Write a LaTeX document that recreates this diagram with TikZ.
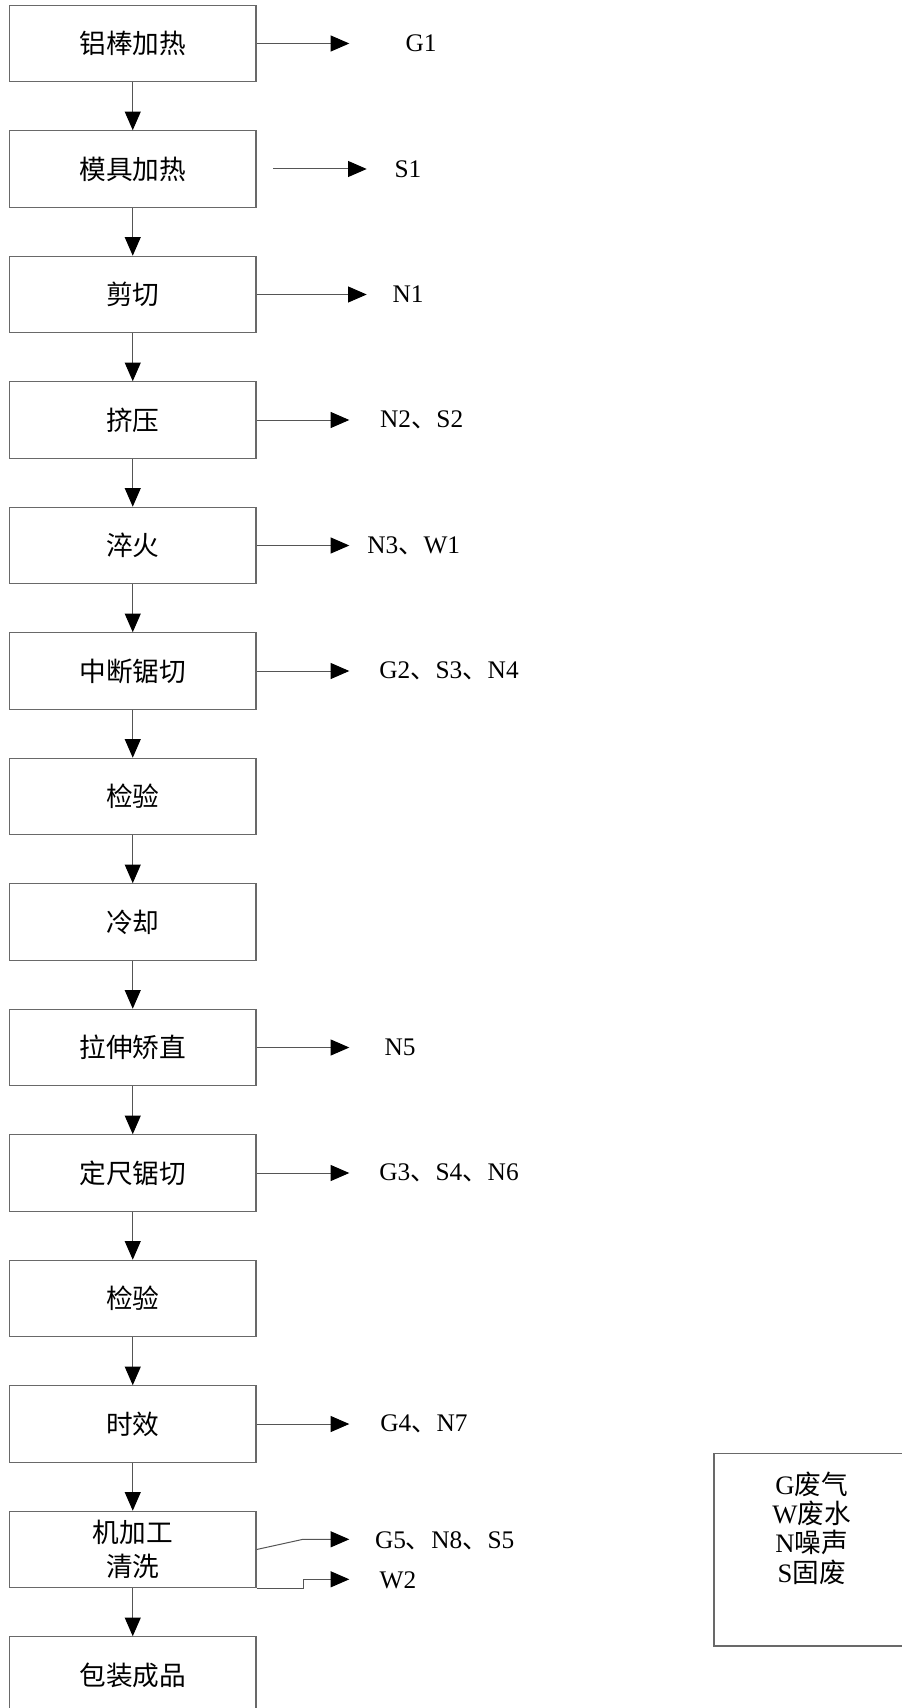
\documentclass[tikz,border=0pt]{standalone}
\usepackage{fontspec}
\setmainfont{Liberation Serif}
\newfontfamily\cjk{Noto Sans CJK SC}
\usepackage{tikz}
\usetikzlibrary{arrows.meta}
\tikzset{>={Triangle[length=14pt,width=12pt]}}
\definecolor{boxgray}{RGB}{105,105,105}
\definecolor{linegray}{RGB}{85,85,85}
\newcommand{\sepmark}{{\cjk 、}}

\begin{document}
\begin{tikzpicture}[x=0.75pt,y=-0.75pt,
    procbox/.style={draw=boxgray, line width=0.9pt, minimum width=184.9pt, minimum height=57.3pt,
      align=center, font=\cjk\fontsize{20}{26}\selectfont},
    flow/.style={draw=linegray, line width=0.75pt, -{Triangle[length=14pt,width=12pt,color=black]}},
    outlbl/.style={font=\fontsize{19}{22}\selectfont, inner sep=0pt}]
            \useasboundingbox (0,0) rectangle (902,1708);

            % Process boxes
            \node[procbox] (b1) at (132.75,43.5) {铝棒加热};
            \node[procbox] (b2) at (132.75,169) {模具加热};
            \node[procbox] (b3) at (132.75,294.5) {剪切};
            \node[procbox] (b4) at (132.75,420) {挤压};
            \node[procbox] (b5) at (132.75,545.5) {淬火};
            \node[procbox] (b6) at (132.75,671) {中断锯切};
            \node[procbox] (b7) at (132.75,796.5) {检验};
            \node[procbox] (b8) at (132.75,922) {冷却};
            \node[procbox] (b9) at (132.75,1047.5) {拉伸矫直};
            \node[procbox] (b10) at (132.75,1173) {定尺锯切};
            \node[procbox] (b11) at (132.75,1298.5) {检验};
            \node[procbox] (b12) at (132.75,1424) {时效};
            \node[procbox] (b13) at (132.75,1549.5) {机加工\\清洗};
            \node[procbox] (b14) at (132.75,1675) {包装成品}; % bottom edge runs off the page

            % Main flow
            \draw[flow] (b1.south) -- (b2.north);
            \draw[flow] (b2.south) -- (b3.north);
            \draw[flow] (b3.south) -- (b4.north);
            \draw[flow] (b4.south) -- (b5.north);
            \draw[flow] (b5.south) -- (b6.north);
            \draw[flow] (b6.south) -- (b7.north);
            \draw[flow] (b7.south) -- (b8.north);
            \draw[flow] (b8.south) -- (b9.north);
            \draw[flow] (b9.south) -- (b10.north);
            \draw[flow] (b10.south) -- (b11.north);
            \draw[flow] (b11.south) -- (b12.north);
            \draw[flow] (b12.south) -- (b13.north);
            \draw[flow] (b13.south) -- (b14.north);

            % Arrow ends for the emissions
            \coordinate (g1tip) at (349.3,43.5);
            \coordinate (s1tail) at (273.3,169);
            \coordinate (s1tip) at (366.7,169);
            \coordinate (n1tip) at (366.7,294.5);
            \coordinate (n2tip) at (349.3,420);
            \coordinate (n3tip) at (349.3,545.5);
            \coordinate (g2tip) at (349.3,671);
            \coordinate (n5tip) at (349.3,1047.5);
            \coordinate (g3tip) at (349.3,1173);
            \coordinate (g4tip) at (349.3,1424);
            \coordinate (g5bend) at (303,1539.3);
            \coordinate (g5tip) at (349.3,1539.3);
            \coordinate (w2bend) at (303,1579.3);
            \coordinate (w2tip) at (349.3,1579.3);

            \draw[flow] (b1.east) -- (g1tip);
            \draw[flow] (s1tail) -- (s1tip); % starts off the box
            \draw[flow] (b3.east) -- (n1tip);
            \draw[flow] (b4.east) -- (n2tip);
            \draw[flow] (b5.east) -- (n3tip);
            \draw[flow] (b6.east) -- (g2tip);
            \draw[flow] (b9.east) -- (n5tip);
            \draw[flow] (b10.east) -- (g3tip);
            \draw[flow] (b12.east) -- (g4tip);
            \draw[flow] (b13.east) -- (g5bend) -- (g5tip);
            \draw[flow] (b13.south east) -| (w2bend) -- (w2tip);

            % Emission labels
            \node[outlbl] (g1) at (421,43.5) {G1};
            \node[outlbl] (s1) at (408,169) {S1};
            \node[outlbl] (n1) at (408,294.5) {N1};
            \node[outlbl] (n2s2) at (421.7,420) {N2\sepmark S2};
            \node[outlbl] (n3w1) at (413.7,545.5) {N3\sepmark W1};
            \node[outlbl] (g2s3n4) at (449,671) {G2\sepmark S3\sepmark N4};
            \node[outlbl] (n5) at (400,1047.5) {N5};
            \node[outlbl] (g3s4n6) at (449,1173) {G3\sepmark S4\sepmark N6};
            \node[outlbl] (g4n7) at (424,1424) {G4\sepmark N7};
            \node[outlbl] (g5n8s5) at (444.7,1541) {G5\sepmark N8\sepmark S5};
            \node[outlbl] (w2) at (398,1580) {W2};

            % Legend
            \draw[draw=boxgray, line width=0.9pt] (714,1453.3) rectangle (910,1646);
            \node[align=center, font=\fontsize{20}{22}\selectfont] (legend) at (811.7,1528)
              {G{\cjk 废气}\\W{\cjk 废水}\\N{\cjk 噪声}\\S{\cjk 固废}};
\end{tikzpicture}
\end{document}
